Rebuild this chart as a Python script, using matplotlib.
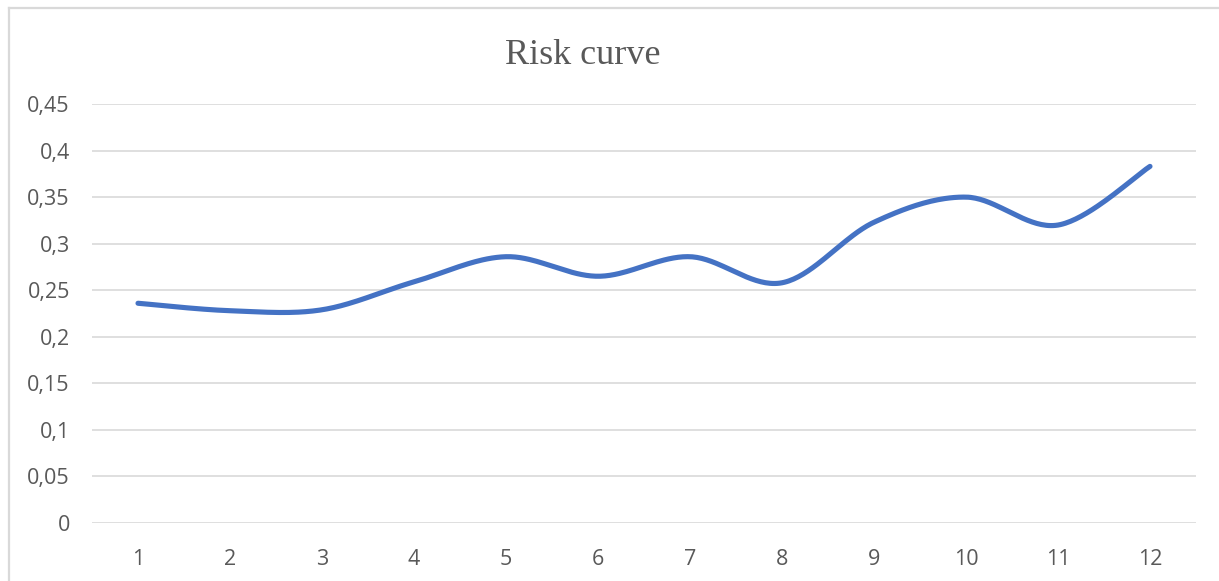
import numpy as np
import matplotlib
matplotlib.use("Agg")
import matplotlib.pyplot as plt
from matplotlib.lines import Line2D

# Data
periods = [1, 2, 3, 4, 5, 6, 7, 8, 9, 10, 11, 12]
risk = [0.236, 0.228, 0.229, 0.259, 0.286, 0.265, 0.286, 0.258, 0.323, 0.350, 0.320, 0.383]
y_ticks = [0, 0.05, 0.1, 0.15, 0.2, 0.25, 0.3, 0.35, 0.4, 0.45]
y_tick_labels = ["0", "0,05", "0,1", "0,15", "0,2", "0,25", "0,3", "0,35", "0,4", "0,45"]
title = "Risk curve"

TEXT = "#595959"
GRID = "#d9d9d9"
LINE = "#4472c4"


def smooth_curve(x, y, n=40):
    """Cubic Bezier smoothing through every point (cardinal spline style)."""
    p = np.column_stack([np.asarray(x, float), np.asarray(y, float)])
    ext = np.vstack([p[0], p, p[-1]])
    out = []
    for i in range(len(p) - 1):
        p0, p1 = ext[i + 1], ext[i + 2]
        c1 = p0 + (ext[i + 2] - ext[i]) / 6.0
        c2 = p1 - (ext[i + 3] - ext[i + 1]) / 6.0
        t = np.linspace(0, 1, n)[:, None]
        seg = ((1 - t) ** 3) * p0 + 3 * ((1 - t) ** 2) * t * c1 + 3 * (1 - t) * t ** 2 * c2 + t ** 3 * p1
        out.append(seg if i == 0 else seg[1:])
    pts = np.vstack(out)
    return pts[:, 0], pts[:, 1]


W, H = 1219, 581
fig = plt.figure(figsize=(W / 100, H / 100), dpi=100)
fig.patch.set_facecolor("white")

ax = fig.add_axes([92 / W, (H - 523) / H, 1104 / W, 419 / H])
ax.set_xlim(0.5, 12.5)
ax.set_ylim(0, 0.45)

sx, sy = smooth_curve(periods, risk)
ax.plot(sx, sy, color=LINE, lw=3.7, solid_capstyle="round", solid_joinstyle="round", zorder=3)

ax.set_yticks(y_ticks)
ax.set_yticklabels(y_tick_labels)
ax.set_xticks(periods)
ax.set_xticklabels([str(p) for p in periods])
ax.grid(axis="y", color=GRID, lw=1.2)
ax.set_axisbelow(True)
for s in ax.spines.values():
    s.set_visible(False)
ax.tick_params(axis="both", length=0, labelcolor=TEXT, labelsize=15.5)
ax.tick_params(axis="y", pad=16)
ax.tick_params(axis="x", pad=19)
for lab in ax.get_xticklabels() + ax.get_yticklabels():
    lab.set_fontfamily("Open Sans")

fig.text(583 / W, (H - 64) / H, title, ha="center", va="baseline",
         fontsize=26, color=TEXT, family="Liberation Serif")

# Chart-area frame
fig.add_artist(Line2D([9 / W, 1.0], [(H - 8) / H] * 2, color=GRID, lw=1.6))
fig.add_artist(Line2D([9 / W] * 2, [0, (H - 8) / H], color=GRID, lw=1.6))

fig.savefig("out.png", dpi=100)
